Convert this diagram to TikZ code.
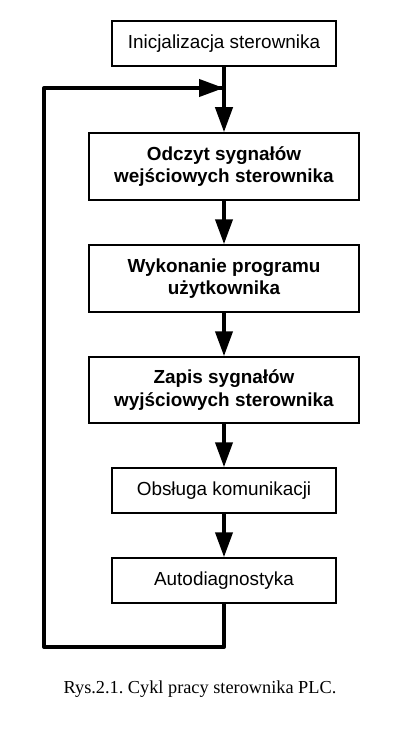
\documentclass[tikz,border=0pt]{standalone}
\usepackage{fontspec}
\setmainfont{Liberation Sans}
\newfontfamily\capfont{Liberation Serif}
\usetikzlibrary{arrows.meta}
\frenchspacing
\begin{document}
\begin{tikzpicture}[x=1pt,y=1pt,
  box/.style={draw=black, line width=1.5pt, fill=white, align=center, inner sep=0pt,
    font=\fontsize{18.9}{22.7}\selectfont},
  bbox/.style={box, font=\fontsize{18.9}{22.7}\selectfont\bfseries},
  flow/.style={line width=4pt, -{Triangle[length=25pt,width=17pt]}},
  loopline/.style={line width=4pt, line join=round}]
\useasboundingbox (0,0) rectangle (417,-743);
\fill[white] (0,0) rectangle (417,-743);
\node[box, minimum width=224pt, minimum height=45pt] (b1) at (224,-43.5) {Inicjalizacja sterownika};
\node[bbox, minimum width=270pt, minimum height=67pt] (b2) at (224,-166.5) {Odczyt sygnałów\\wejściowych sterownika};
\node[bbox, minimum width=270pt, minimum height=67pt] (b3) at (224,-278.5) {Wykonanie programu\\użytkownika};
\node[bbox, minimum width=270pt, minimum height=66pt] (b4) at (224,-390) {Zapis sygnałów\\wyjściowych sterownika};
\node[box, minimum width=224pt, minimum height=45pt] (b5) at (224,-490.5) {Obsługa komunikacji};
\node[box, minimum width=224pt, minimum height=45pt] (b6) at (224,-580.5) {Autodiagnostyka};
\coordinate (j) at (224,-88);
\coordinate (bl) at (44,-647);
\coordinate (tl) at (44,-88);
\draw[flow] (b1.south) -- (b2.north);
\draw[flow] (b2.south) -- (b3.north);
\draw[flow] (b3.south) -- (b4.north);
\draw[flow] (b4.south) -- (b5.north);
\draw[flow] (b5.south) -- (b6.north);
\draw[loopline] (b6.south) |- (bl) |- (j);
\draw[flow] (tl) -- (j);
\node[font=\capfont\fontsize{18.3}{20}\selectfont] (cap) at (200,-689) {Rys.2.1. Cykl pracy sterownika PLC.};
\end{tikzpicture}
\end{document}
